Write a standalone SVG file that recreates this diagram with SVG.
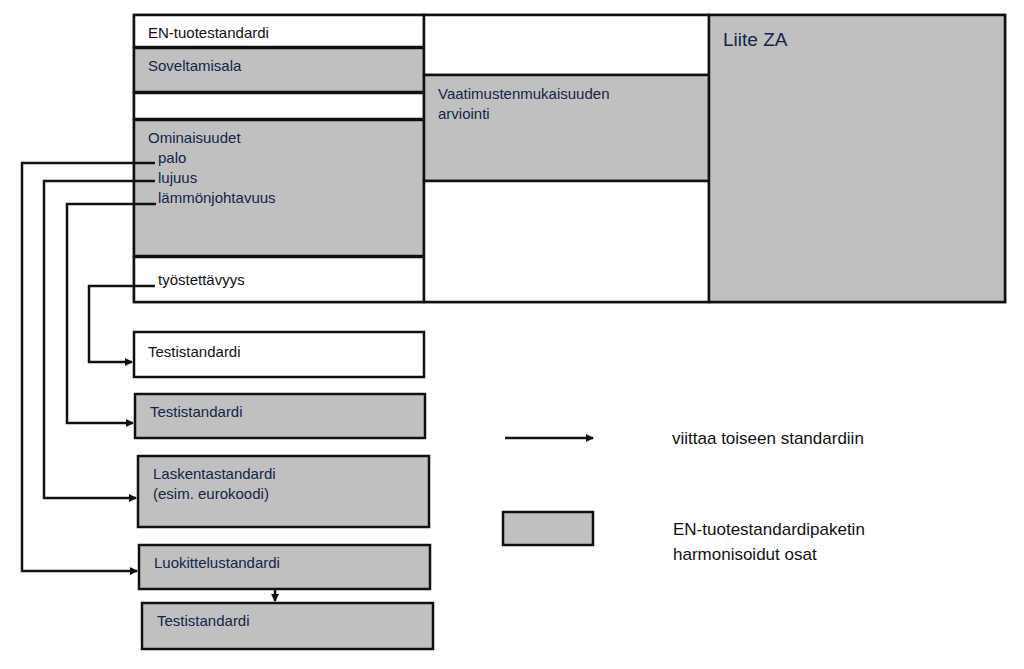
<svg xmlns="http://www.w3.org/2000/svg" width="1024" height="669" viewBox="0 0 1024 669">
<style>
text{font-family:"Liberation Sans",Arial,sans-serif;font-size:15px}
.g{fill:#c0c0c0;stroke:#111;stroke-width:2.5}
.w{fill:#fff;stroke:#111;stroke-width:2.5}
.d{fill:#14244a}
.k{fill:#111}
.c{fill:none;stroke:#111;stroke-width:2.5}
</style>
<defs><marker id="a" markerWidth="8" markerHeight="8" refX="7" refY="4" orient="auto" markerUnits="userSpaceOnUse"><path d="M0,0L8,4L0,8z" fill="#111"/></marker></defs>
<rect width="1024" height="669" fill="#fff"/>
<g id="frame"><rect class="w" x="134" y="15" width="871" height="287"/></g>
<g id="en"><rect class="w" x="134" y="15" width="290" height="32"/><text class="k" x="148" y="38">EN-tuotestandardi</text></g>
<g id="sov"><rect class="g" x="134" y="48" width="290" height="44"/><text class="d" x="148" y="71">Soveltamisala</text></g>
<g id="blank"><rect class="w" x="134" y="93" width="290" height="26"/></g>
<g id="omin"><rect class="g" x="134" y="120" width="290" height="136"/><text class="d" x="148" y="143">Ominaisuudet</text><text class="d" x="158" y="163">palo</text><text class="d" x="158" y="183">lujuus</text><text class="d" x="158" y="203">lämmönjohtavuus</text></g>
<g id="tyo"><rect class="w" x="134" y="257" width="290" height="45"/><text class="k" x="158" y="285">työstettävyys</text></g>
<g id="mid"><rect class="w" x="424" y="15" width="285" height="60"/><rect class="g" x="424" y="75" width="285" height="106"/><text class="d" x="438" y="99">Vaatimustenmukaisuuden</text><text class="d" x="438" y="119">arviointi</text><rect class="w" x="424" y="181" width="285" height="121"/></g>
<g id="liite"><rect class="g" x="709" y="15" width="296" height="287"/><text class="d" x="723" y="46" style="font-size:19px">Liite ZA</text></g>
<g id="t1"><rect class="w" x="134" y="332" width="290" height="45"/><text class="k" x="148" y="357">Testistandardi</text></g>
<g id="t2"><rect class="g" x="135" y="394" width="290" height="44"/><text class="d" x="150" y="417">Testistandardi</text></g>
<g id="lask"><rect class="g" x="138" y="456" width="291" height="71"/><text class="d" x="153" y="479">Laskentastandardi</text><text class="d" x="153" y="499">(esim. eurokoodi)</text></g>
<g id="luok"><rect class="g" x="139" y="545" width="291" height="44"/><text class="d" x="154" y="568">Luokittelustandardi</text></g>
<g id="t3"><rect class="g" x="142" y="603" width="291" height="46"/><text class="d" x="157" y="626">Testistandardi</text></g>
<g id="connectors">
<path class="c" d="M155,163H22V571H137" marker-end="url(#a)"/>
<path class="c" d="M155,181H44V498H136" marker-end="url(#a)"/>
<path class="c" d="M156,204H67V423H133" marker-end="url(#a)"/>
<path class="c" d="M155,286H89V362H132" marker-end="url(#a)"/>
<path class="c" d="M275,590V601" marker-end="url(#a)"/>
</g>
<g id="legend">
<path class="c" d="M505,438H593" marker-end="url(#a)"/>
<text class="k" x="672" y="444" style="font-size:17px">viittaa toiseen standardiin</text>
<rect class="g" x="503" y="512" width="90" height="33"/>
<text class="k" x="673" y="535" style="font-size:17px">EN-tuotestandardipaketin</text>
<text class="k" x="673" y="560" style="font-size:17px">harmonisoidut osat</text>
</g>
</svg>
